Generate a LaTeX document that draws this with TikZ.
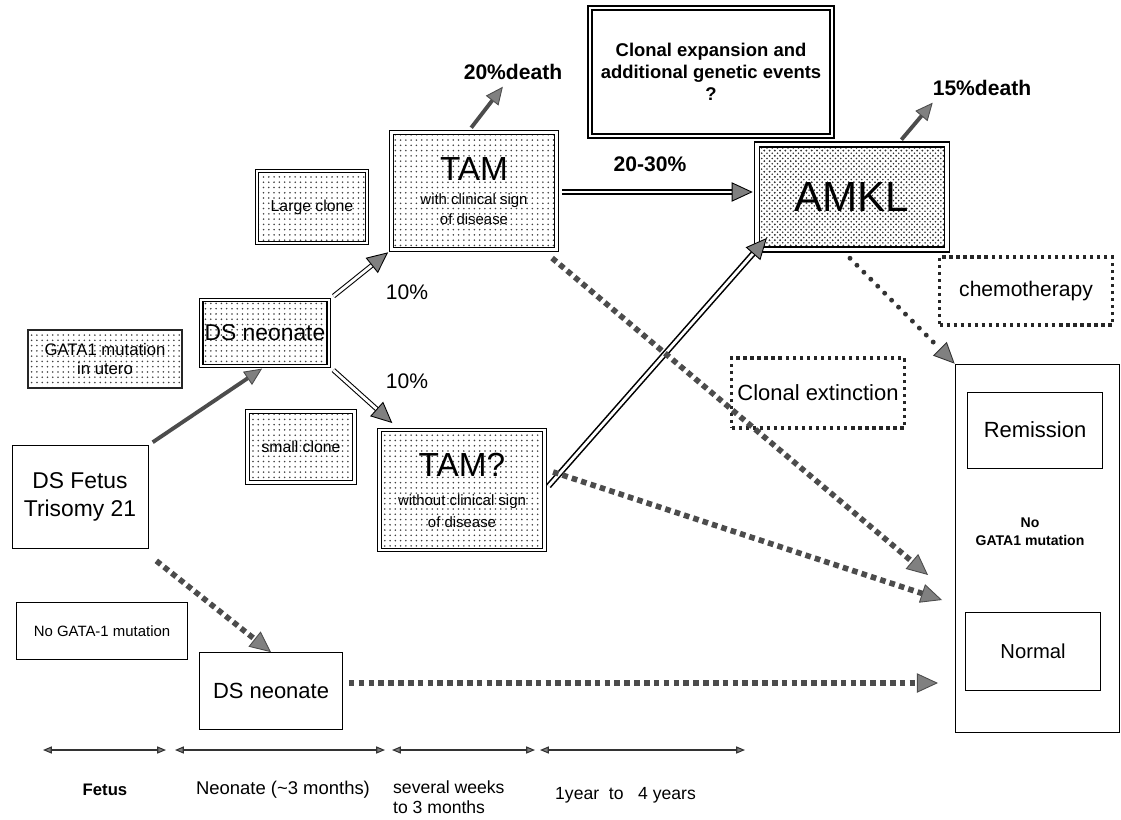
\documentclass[tikz,border=0pt]{standalone}
\usepackage{fontspec}
\setmainfont{Liberation Sans}
\usetikzlibrary{arrows.meta,positioning,patterns}
\tikzset{
    %Define standard arrow tip
    >={Triangle[length=12pt,width=11pt,line width=0.5pt,fill=gray]},
    %Define style for boxes
    clonebox/.style={
           rectangle,
           draw=black, double, double distance=1.3pt, line width=0.7pt,
           preaction={pattern=dots, pattern color=black!75},
           align=center,
           inner sep=2pt},
    plainbox/.style={
           rectangle,
           draw=black, thin,
           fill=white,
           align=center},
    dotbox/.style={
           rectangle,
           draw=black!85, line width=2pt,
           dash pattern=on 2pt off 2pt,
           align=center},
    % Define arrow style
    solidarrow/.style={
           -{Triangle[length=10pt,width=9pt,line width=0.5pt,fill=gray]},
           draw=black!70, line width=2.2pt,
           shorten <=3pt,
           shorten >=2pt},
    dblarrow/.style={
           ->,
           double, double distance=1.6pt,
           line width=0.6pt,
           shorten <=3pt,
           shorten >=2pt},
    squaredots/.style={
           ->,
           draw=black!70, line width=3.2pt,
           dash pattern=on 3.2pt off 2.4pt},
    rounddots/.style={
           ->,
           draw=black!80, line width=2.8pt,
           line cap=round,
           dash pattern=on 0pt off 5.6pt},
    span/.style={
           {Triangle[length=5pt,width=4pt,fill=gray]}-{Triangle[length=5pt,width=4pt,fill=gray]},
           draw=black!80, semithick}
}

\begin{document}
\begin{tikzpicture}[x=0.02cm, y=-0.02cm]
    \useasboundingbox (0,0) rectangle (1121,820);
 %nodes
    \node[clonebox, draw=black!85, line width=1.6pt, double=none, minimum width=3.08cm, minimum height=1.16cm,
          font=\fontsize{9.5}{11}\selectfont] (gata) at (105,359) {GATA1 mutation\\in utero};
    \node[plainbox, minimum width=2.72cm, minimum height=2.06cm,
          font=\fontsize{13}{16}\selectfont] (fetus) at (80,497) {DS Fetus\\Trisomy 21};
    \node[clonebox, minimum width=2.5cm, minimum height=1.32cm,
          font=\fontsize{13}{16}\selectfont] (dsneo) at (265,333) {DS neonate};
    \node[clonebox, minimum width=2.2cm, minimum height=1.44cm,
          font=\fontsize{9}{11}\selectfont] (large) at (312,207) {Large clone};
    \node[clonebox, minimum width=2.14cm, minimum height=1.42cm,
          font=\fontsize{9}{11}\selectfont] (small) at (301,447) {small clone};
    \node[clonebox, minimum width=3.3cm, minimum height=2.34cm, font=\fontsize{8.5}{11.5}\selectfont] (tam) at (474,191)
          {{\fontsize{19}{20}\selectfont TAM}\\[2pt]with clinical sign\\of disease};
    \node[clonebox, minimum width=3.3cm, minimum height=2.4cm, font=\fontsize{8.5}{12.5}\selectfont] (tamq) at (462,490)
          {{\fontsize{19}{20}\selectfont TAM?}\\[4pt]without clinical sign\\of disease};
    \node[plainbox, double, double distance=1.5pt, line width=0.9pt, minimum width=4.84cm, minimum height=2.56cm,
          font=\bfseries\fontsize{10.5}{12.5}\selectfont] (expand) at (711,72)
          {Clonal expansion and\\additional genetic events\\?};
    \node[clonebox, preaction={pattern=crosshatch dots, pattern color=black!80}, double distance=2pt, line width=0.9pt,
          minimum width=3.8cm, minimum height=2.1cm,
          font=\fontsize{24}{26}\selectfont] (amkl) at (852,197) {AMKL};
    \node[dotbox, minimum width=3.46cm, minimum height=1.36cm,
          font=\fontsize{12}{14}\selectfont] (chemo) at (1026,291) {chemotherapy};
    \node[dotbox, minimum width=3.46cm, minimum height=1.4cm,
          font=\fontsize{12.5}{14}\selectfont] (extinct) at (818,393) {Clonal extinction};
    \node[plainbox, minimum width=3.28cm, minimum height=7.36cm] (rightbox) at (1037,548) {};
    \node[plainbox, minimum width=2.7cm, minimum height=1.52cm,
          font=\fontsize{12.5}{14}\selectfont] (remission) at (1035,430) {Remission};
    \node[plainbox, minimum width=2.7cm, minimum height=1.56cm,
          font=\fontsize{11.5}{14}\selectfont] (normal) at (1033,651) {Normal};
    \node[font=\bfseries\fontsize{8}{10}\selectfont, align=center] (nomut) at (1030,532) {No\\GATA1 mutation};
    \node[plainbox, minimum width=3.42cm, minimum height=1.14cm,
          font=\fontsize{8.5}{10}\selectfont] (nogata) at (102,631) {No GATA-1 mutation};
    \node[plainbox, minimum width=2.86cm, minimum height=1.54cm,
          font=\fontsize{12.5}{14}\selectfont] (dsneob) at (271,691) {DS neonate};
 %labels
    \node[font=\bfseries\fontsize{12}{14}\selectfont] (death1) at (513,72) {20\%death};
    \node[font=\bfseries\fontsize{12}{14}\selectfont] (death2) at (982,88) {15\%death};
    \node[font=\fontsize{12}{14}\selectfont] (pa) at (407,292) {10\%};
    \node[font=\fontsize{12}{14}\selectfont] (pb) at (407,381) {10\%};
    \node[font=\bfseries\fontsize{12}{14}\selectfont] (pc) at (650,164) {20-30\%};
 %edges
    \coordinate (in1) at (928,575);
    \coordinate (in2) at (942,600);
    \coordinate (in3) at (938,683);
    \draw[solidarrow] (fetus.north east) to (dsneo.south);
    \draw[dblarrow] (dsneo.north east) to (tam.south west);
    \draw[dblarrow] (dsneo.south east) to ([shift={(16,-4)}]tamq.north west);
    \draw[solidarrow] ([shift={(-6,0)}]tam.north) to ([shift={(-8,-2)}]death1.south);
    \draw[solidarrow] ([shift={(46,0)}]amkl.north) to ([shift={(-47,-2)}]death2.south);
    \draw[dblarrow, line width=0.9pt] (tam.east |- 0,192) to (amkl.west |- 0,192);
    \draw[dblarrow, line width=0.9pt] (tamq.east) to ([shift={(13,-15)}]amkl.south west);
    \draw[squaredots] ([shift={(-5,8)}]tam.south east) to (in1);
    \draw[squaredots] ([shift={(8,-18)}]tamq.east) to (in2);
    \draw[squaredots] ([shift={(8,12)}]fetus.south east) to (dsneob.north);
    \draw[squaredots] ([shift={(6,-8)}]dsneob.east) to (in3);
    \draw[rounddots] ([shift={(-2,8)}]amkl.south) to (rightbox.north west);
 %time line
    \coordinate (a0) at (43,750);  \coordinate (a1) at (166,750);
    \coordinate (b0) at (175,750); \coordinate (b1) at (385,750);
    \coordinate (c0) at (392,750); \coordinate (c1) at (535,750);
    \coordinate (d0) at (540,750); \coordinate (d1) at (745,750);
    \draw[span] (a0) -- (a1);
    \draw[span] (b0) -- (b1);
    \draw[span] (c0) -- (c1);
    \draw[span] (d0) -- (d1);
    \node[font=\bfseries\fontsize{9.5}{11}\selectfont] (fet) at (105,790) {Fetus};
    \node[font=\fontsize{10.5}{12}\selectfont] (neo) at (283,790) {Neonate (\textasciitilde3 months)};
    \node[font=\fontsize{10}{11.5}\selectfont, align=left, anchor=west] (sev) at (387,797) {several weeks\\to 3 months};
    \node[font=\fontsize{10}{12}\selectfont, anchor=west] (yrs) at (549,795) {1year\ \ to\ \ \ 4 years};
\end{tikzpicture}
\end{document}
